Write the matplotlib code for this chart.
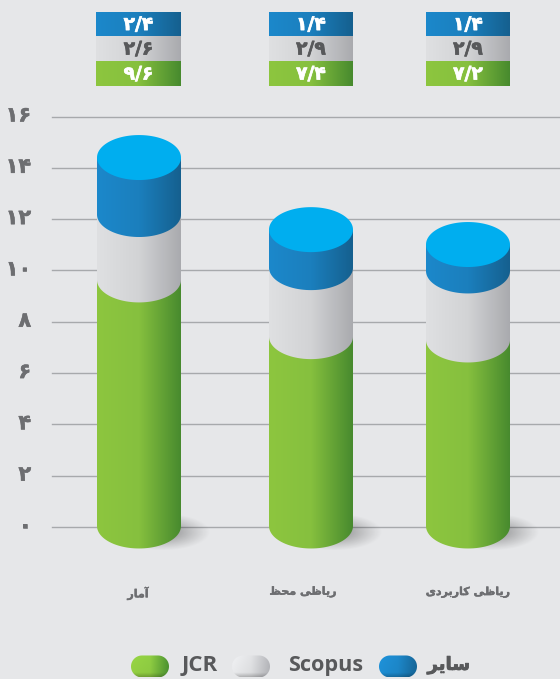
import numpy as np
import matplotlib
matplotlib.use('Agg')
import matplotlib.pyplot as plt
import matplotlib.patheffects as pe
from matplotlib.colors import LinearSegmentedColormap
from matplotlib.path import Path
from matplotlib.transforms import ScaledTranslation

# data
categories = ['آمار', 'ریاضی محض', 'ریاضی کاربردی']
jcr_heights = [9.59, 7.38, 7.25]
scopus_heights = [2.55, 2.69, 2.69]
other_heights = [2.22, 1.48, 1.03]
jcr_labels = ['۹/۶', '۷/۴', '۷/۲']
scopus_labels = ['۲/۶', '۲/۹', '۲/۹']
other_labels = ['۲/۴', '۱/۴', '۱/۴']
ytick_values = [0, 2, 4, 6, 8, 10, 12, 14, 16]
ytick_labels = ['۰', '۲', '۴', '۶', '۸', '۱۰', '۱۲', '۱۴', '۱۶']
legend_names = ['JCR', 'Scopus', 'سایر']

bar_x = [139, 311, 468]
label_x = [138, 303, 468]
box_left = [96, 269, 426]
box_right = [181, 353, 510]
bg = '#e6e7e9'
dark = '#58595b'
green = ['#8dc63f', '#86c03e', '#478a2e']
grey = ['#dfe0e2', '#d2d3d5', '#a9aaae']
blue = ['#1c88cb', '#1b7fbd', '#15608f']

# matplotlib has no arabic shaping, so pick the joined glyphs here (isolated, final, initial, medial)
forms = {
    'ا': '\ufe8d\ufe8e', 'آ': '\ufe81\ufe82', 'د': '\ufea9\ufeaa', 'ر': '\ufead\ufeae',
    'ب': '\ufe8f\ufe90\ufe91\ufe92', 'ح': '\ufea1\ufea2\ufea3\ufea4',
    'س': '\ufeb1\ufeb2\ufeb3\ufeb4', 'ض': '\ufec5\ufec6\ufec7\ufec8',
    'م': '\ufee1\ufee2\ufee3\ufee4', 'ی': '\ufbfc\ufbfd\ufbfe\ufbff',
    'ک': '\ufb8e\ufb8f\ufb90\ufb91',
}

def shape(word):
    out = ''
    for i, c in enumerate(word):
        if c not in forms:
            out += c
            continue
        before = i > 0 and word[i-1] in forms and len(forms[word[i-1]]) == 4
        after = i < len(word)-1 and word[i+1] in forms and len(forms[c]) == 4
        out += forms[c][(1 if before else 0) + (2 if after else 0)]
    return out[::-1]

fig = plt.figure(figsize=(5.6, 6.79), dpi=100, facecolor=bg)
ax = fig.add_axes([52/560, 1-527/679, 508/560, 410.5/679], facecolor=bg)

def y_px(p):
    return (527-p)/25.66

def heavy(color, w=0.5):
    return [pe.withStroke(linewidth=w, foreground=color)]

def gradient(colors, x0, x1, y0, y1, clip=None, zorder=3):
    cmap = LinearSegmentedColormap.from_list('g', colors)
    im = ax.imshow(np.linspace(0, 1, 256).reshape(1, -1), cmap=cmap, extent=[x0, x1, y0, y1],
                   aspect='auto', interpolation='bilinear', zorder=zorder)
    im.set_clip_box(fig.bbox)
    if clip is not None:
        im.set_clip_path(clip, transform=ax.transData)
    return im

halfw = 42
halfh = 22.5/25.66

def segment(xc, bottom, top):
    t = np.linspace(0, np.pi, 80)
    xs = np.r_[xc-halfw, xc+halfw, xc+halfw*np.cos(t)]
    ys = np.r_[top, top, bottom-halfh*np.sin(t)]
    return Path(np.c_[xs, ys])

# shadows
gx, gy = np.meshgrid(np.linspace(-1, 1, 120), np.linspace(-1, 1, 60))
shadow = np.zeros((60, 120, 4))
shadow[..., 3] = 0.42*np.clip(1-np.hypot(gx, gy), 0, 1)**1.1
for xc in bar_x:
    im = ax.imshow(shadow, extent=[xc-25, xc+72, y_px(551), y_px(513)], aspect='auto', zorder=2)
    im.set_clip_box(fig.bbox)

# cylinders
for i, xc in enumerate(bar_x):
    base = 0.04
    for h, cols in zip([jcr_heights[i], scopus_heights[i], other_heights[i]], [green, grey, blue]):
        clip = segment(xc, base, base+h)
        gradient(cols, xc-halfw, xc+halfw, base-halfh-0.1, base+h+0.1, clip)
        base += h
    t = np.linspace(0, 2*np.pi, 120)
    ax.fill(xc+halfw*np.cos(t), base+halfh*np.sin(t), color='#00aeef', lw=0, zorder=4, clip_on=False)

# value boxes above the chart
for i in range(3):
    x0, x1 = box_left[i], box_right[i]
    rows = [(other_labels[i], blue, 12, 36, 'white'),
            (scopus_labels[i], grey, 36, 61, dark),
            (jcr_labels[i], green, 61, 86, 'white')]
    for label, cols, p0, p1, tc in rows:
        gradient(cols, x0, x1, y_px(p1), y_px(p0))
        ax.text((x0+x1)/2, y_px((p0+p1)/2+0.5), label, color=tc, ha='center', va='center', fontsize=13.5,
                fontweight='bold', family='DejaVu Sans', zorder=5, clip_on=False, path_effects=heavy(tc))

# legend
def pill(x0, x1, p0, p1, cols):
    nx, ny = 120, 50
    cmap = LinearSegmentedColormap.from_list('p', cols)
    rgb = cmap(np.linspace(0, 1, nx))[:, :3][None, :, :].repeat(ny, axis=0)
    v = np.linspace(0, 1, ny)[:, None, None]
    shade = 1.08-0.04*v
    shade = np.where(v > 0.8, shade-(v-0.8)*1.1, shade)
    im = ax.imshow(np.clip(rgb*shade, 0, 1), extent=[x0, x1, y_px(p1), y_px(p0)], aspect='auto',
                   interpolation='bilinear', zorder=3)
    im.set_clip_box(fig.bbox)
    r = (p1-p0)/2
    t = np.linspace(-np.pi/2, np.pi/2, 40)
    xs = np.r_[x1-r+r*np.cos(t), x0+r-r*np.cos(t)]
    ys = np.r_[(p0+p1)/2-r*np.sin(t), (p0+p1)/2+r*np.sin(t)]
    im.set_clip_path(Path(np.c_[xs, y_px(ys)]), transform=ax.transData)

pill(131, 169, 655.5, 677.5, green)
pill(232, 270, 655.5, 677.5, grey)
pill(379, 417, 655.5, 677.5, blue)
ax.text(182, y_px(666), legend_names[0], color=dark, fontsize=16, fontweight='bold', family='Open Sans',
        va='center', ha='left', clip_on=False)
ax.text(288, y_px(666), legend_names[1], color=dark, fontsize=15.6, fontweight='bold', family='Open Sans',
        va='center', ha='left', clip_on=False)
ax.text(470, y_px(665), shape(legend_names[2]), color=dark, fontsize=13, fontweight='bold',
        family='DejaVu Sans', va='center', ha='right', clip_on=False, path_effects=heavy(dark, 0.6))

# axes
ax.set_xlim(52, 560)
ax.set_ylim(0, 16)
ax.set_yticks(ytick_values, ytick_labels)
ax.set_xticks(label_x, [shape(c) for c in categories])
ax.grid(axis='y', color='#a7a9ac', lw=1.0, clip_on=False, zorder=1)
ax.grid(axis='x', visible=False)
ax.set_axisbelow(True)
for line in ax.get_ygridlines():
    line.set_clip_on(False)
ax.tick_params(axis='y', length=0, pad=15, labelsize=15, labelcolor='#6d6e71')
ax.tick_params(axis='x', length=0, pad=43, labelsize=8, labelcolor='#6d6e71')
up = ScaledTranslation(0, 0.03, fig.dpi_scale_trans)
for lab in ax.get_yticklabels():
    lab.set_fontweight('bold')
    lab.set_family('DejaVu Sans')
    lab.set_path_effects(heavy('#6d6e71', 0.4))
    lab.set_transform(lab.get_transform()+up)
for lab in ax.get_xticklabels():
    lab.set_fontweight('bold')
    lab.set_family('DejaVu Sans')
    lab.set_path_effects(heavy('#6d6e71', 0.3))
for s in ax.spines.values():
    s.set_visible(False)

plt.savefig('out.png', dpi=100, facecolor=bg)
